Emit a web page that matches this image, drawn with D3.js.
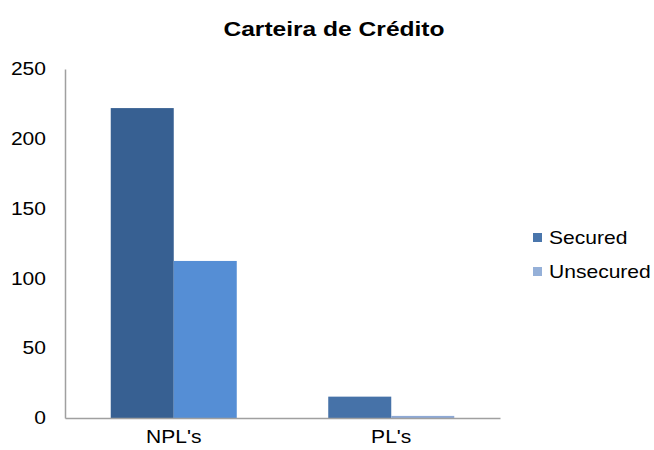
<!DOCTYPE html>
<html>
<head>
<meta charset="utf-8">
<script src="https://cdn.jsdelivr.net/npm/d3@7/dist/d3.min.js"></script>
<style>
  html, body { margin: 0; padding: 0; background: #fff; }
  svg { display: block; font-family: "Liberation Sans", Arial, sans-serif; }
</style>
</head>
<body>
<svg id="chart" width="654" height="450"></svg>
<script>
// Loan portfolio: secured vs. unsecured, by NPL / PL
const categories = ["NPL's", "PL's"];
const seriesNames = ["Secured", "Unsecured"];
const securedValues = [222, 15.3];
const unsecuredValues = [112.5, 1.5];
const yTicks = [0, 50, 100, 150, 200, 250];

// Fill per bar (each point carries its own shade) and per legend key
const barColors = {
  "Secured": ["#376092", "#4672A8"],
  "Unsecured": ["#558ED5", "#8EA9D6"]
};
const legendColors = ["#4A76AC", "#95B0D8"];

const svg = d3.select("#chart");
const plot = { left: 65, right: 500, top: 69, bottom: 418 };
// Labels use a slightly widened Arial-like face
const stretch = 1.17;
const labelSize = 18;

const y = d3.scaleLinear().domain([0, 250]).range([plot.bottom, plot.top]);
const x0 = d3.scaleBand().domain(categories).range([plot.left, plot.right]).padding(0);
const x1 = d3.scaleBand().domain(seriesNames).range([0, x0.bandwidth()])
  .paddingInner(0).paddingOuter(0.726);

const rows = categories.map((c, i) => ({
  category: c,
  values: [
    { series: "Secured", value: securedValues[i], color: barColors["Secured"][i] },
    { series: "Unsecured", value: unsecuredValues[i], color: barColors["Unsecured"][i] }
  ]
}));

// Title
svg.append("text")
  .attr("transform", `translate(334,36) scale(${stretch},1)`)
  .attr("text-anchor", "middle")
  .attr("font-size", 21).attr("font-weight", "bold").attr("fill", "#000")
  .text("Carteira de Crédito");

// Bars
const groups = svg.append("g").selectAll("g").data(rows).join("g")
  .attr("transform", d => `translate(${x0(d.category)},0)`);
groups.selectAll("rect").data(d => d.values).join("rect")
  .attr("x", d => x1(d.series))
  .attr("y", d => y(d.value))
  .attr("width", x1.bandwidth())
  .attr("height", d => y(0) - y(d.value))
  .attr("fill", d => d.color);

// Y axis
const yPad = 19;
const yAxis = svg.append("g")
  .attr("transform", `translate(${plot.left},0)`)
  .call(d3.axisLeft(y).tickValues(yTicks).tickSize(0).tickPadding(yPad));
yAxis.select(".domain").attr("stroke", "#A0A0A0").attr("stroke-width", 1.5);
yAxis.selectAll("text").attr("font-size", labelSize).attr("fill", "#000")
  .attr("font-family", "Liberation Sans, Arial, sans-serif")
  .attr("x", -yPad / stretch)
  .attr("transform", `scale(${stretch},1)`);

// X axis
const xAxis = svg.append("g")
  .attr("transform", `translate(0,${plot.bottom})`)
  .call(d3.axisBottom(x0).tickSize(0).tickPadding(12));
xAxis.select(".domain").attr("stroke", "#A0A0A0").attr("stroke-width", 1.5);
xAxis.selectAll("text").attr("font-size", labelSize).attr("fill", "#000")
  .attr("font-family", "Liberation Sans, Arial, sans-serif")
  .attr("transform", `scale(${stretch},1)`);

// Legend
const legend = svg.append("g").attr("transform", "translate(533,233)");
const items = legend.selectAll("g").data(seriesNames).join("g")
  .attr("transform", (d, i) => `translate(0,${i * 34})`);
items.append("rect").attr("width", 9).attr("height", 9)
  .attr("fill", (d, i) => legendColors[i]);
items.append("text")
  .attr("transform", `translate(16,11) scale(${stretch},1)`)
  .attr("font-size", labelSize).attr("fill", "#000")
  .text(d => d);
</script>
</body>
</html>
